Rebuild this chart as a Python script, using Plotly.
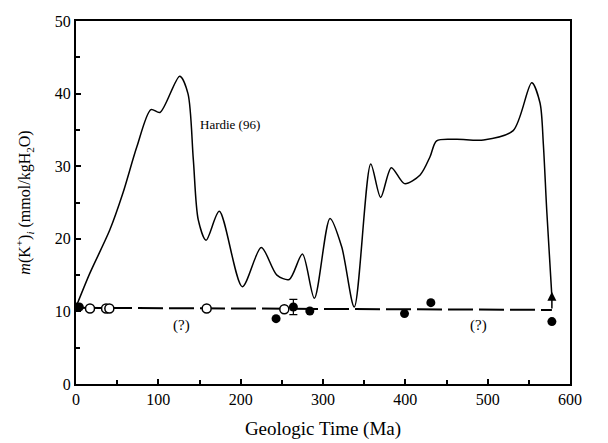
import plotly.graph_objects as go

# Hardie (96) curve
hardie_x = [0, 17, 41, 57, 74, 91, 102, 126, 136, 142.5, 148.5, 158, 174, 202, 225, 244, 259, 275,
            289.5, 308.5, 322.7, 338, 358, 370, 383, 399, 418, 430, 438, 462, 495, 531, 553.5,
            563.6, 567.6, 571.7, 578]
hardie_y = [10.6, 15.3, 21.2, 26.3, 32.7, 37.8, 37.4, 42.4, 40.0, 30.9, 22.6, 19.8, 23.8, 13.4, 18.8,
            15.0, 14.4, 17.9, 11.8, 22.8, 18.9, 10.6, 30.3, 25.7, 29.8, 27.6, 28.8, 31.3, 33.5, 33.7,
            33.6, 34.9, 41.5, 38.7, 33.1, 24.0, 12.0]

# Dashed reference line
dash_x = [0, 578]
dash_y = [10.5, 10.2]

# Filled circles
filled_x = [0, 4, 243, 284, 399, 431, 578]
filled_y = [10.6, 10.6, 9.0, 10.05, 9.7, 11.2, 8.6]

# Filled point with error bar
err_x = [264]
err_y = [10.6]
err_val = [1.05]

# Open circles
open_x = [17, 36.5, 40.5, 158.7, 253]
open_y = [10.4, 10.4, 10.4, 10.4, 10.3]

FONT = "Times New Roman"

fig = go.Figure()
fig.add_trace(go.Scatter(x=dash_x, y=dash_y, mode="lines",
                         line=dict(color="black", width=2, dash="25px,6px"), showlegend=False))
fig.add_trace(go.Scatter(x=hardie_x, y=hardie_y, mode="lines",
                         line=dict(color="black", width=1.5, shape="spline", smoothing=0.8),
                         showlegend=False))
fig.add_trace(go.Scatter(x=open_x, y=open_y, mode="markers",
                         marker=dict(size=9, color="white", line=dict(color="black", width=1.5)),
                         showlegend=False))
fig.add_trace(go.Scatter(x=filled_x, y=filled_y, mode="markers",
                         marker=dict(size=9, color="black"), showlegend=False))
fig.add_trace(go.Scatter(x=err_x, y=err_y, mode="markers",
                         marker=dict(size=9, color="black"),
                         error_y=dict(type="data", array=err_val, color="black", thickness=1.2, width=4),
                         showlegend=False))

fig.add_annotation(x=578, y=12.7, ax=578, ay=10.2, xref="x", yref="y", axref="x", ayref="y",
                   text="", showarrow=True, arrowhead=2, arrowsize=1.2, arrowwidth=1.5,
                   arrowcolor="black")

fig.add_annotation(x=148, y=35.7, text="Hardie (96)", showarrow=False, xanchor="left",
                   font=dict(family=FONT, size=13, color="black"))
fig.add_annotation(x=128, y=8.1, text="(?)", showarrow=False,
                   font=dict(family=FONT, size=15, color="black"))
fig.add_annotation(x=488.7, y=8.1, text="(?)", showarrow=False,
                   font=dict(family=FONT, size=15, color="black"))

axis_common = dict(showline=True, linecolor="black", linewidth=2, mirror=True,
                   ticks="inside", ticklen=5, tickwidth=1.5, tickcolor="black",
                   showgrid=False, zeroline=False, automargin=False,
                   tickfont=dict(family=FONT, size=16, color="black"))

fig.update_xaxes(range=[0, 600], dtick=100, tick0=0,
                 minor=dict(dtick=50, ticks="inside", ticklen=4, tickcolor="black", tickwidth=1.5),
                 title=dict(text="Geologic Time (Ma)", font=dict(family=FONT, size=19, color="black"),
                            standoff=14),
                 **axis_common)
fig.update_yaxes(range=[0, 50], dtick=10, tick0=0,
                 minor=dict(dtick=5, ticks="inside", ticklen=4, tickcolor="black", tickwidth=1.5),
                 title=dict(text="<i>m</i>(K<sup>+</sup>)<sub><i>i</i></sub> (mmol/kgH<sub>2</sub>O)",
                            font=dict(family=FONT, size=16, color="black"), standoff=20),
                 **axis_common)

fig.update_layout(width=608, height=443, margin=dict(l=76, r=38, t=21, b=59),
                  plot_bgcolor="white", paper_bgcolor="white",
                  font=dict(family=FONT, color="black"))

fig.write_html("out.html")
